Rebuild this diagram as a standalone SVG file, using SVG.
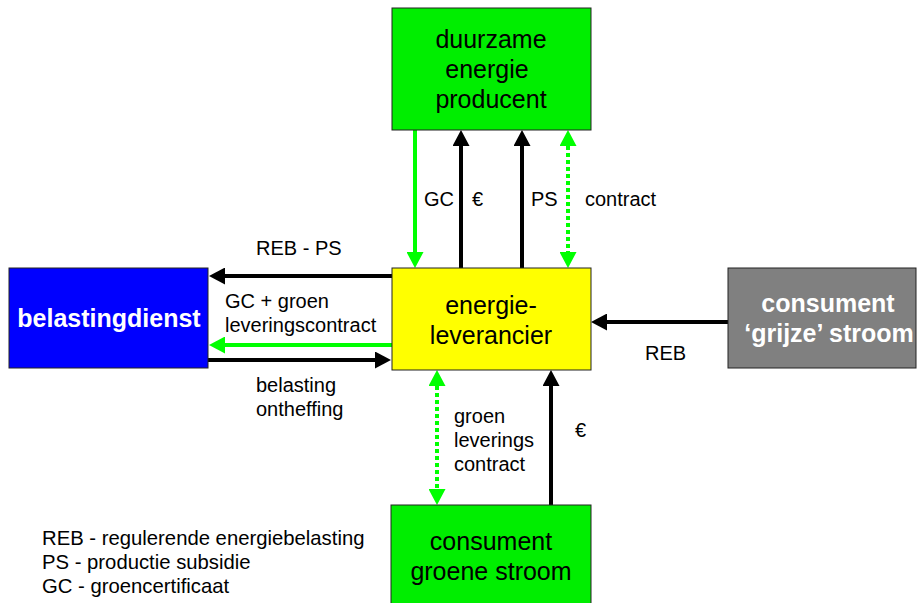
<svg xmlns="http://www.w3.org/2000/svg" width="917" height="603" viewBox="0 0 917 603">
<style>
  .box { stroke: #222; stroke-width: 1; }
  .bt { font-family: "Liberation Sans", Arial, sans-serif; font-size: 25px; text-anchor: middle; fill: #000; }
  .bw { font-family: "Liberation Sans", Arial, sans-serif; font-size: 25px; font-weight: bold; text-anchor: middle; fill: #fff; }
  .lbl { font-family: "Liberation Sans", Arial, sans-serif; font-size: 20px; fill: #000; }
  .leg { font-family: "Liberation Sans", Arial, sans-serif; font-size: 20.3px; fill: #000; }
  .blk { stroke: #000; stroke-width: 4; fill: none; }
  .grn { stroke: #00ff00; stroke-width: 4; fill: none; }
  .dot { stroke: #00ff00; stroke-width: 4; fill: none; stroke-dasharray: 4 3; }
</style>
<defs>
  <marker id="ab" markerUnits="userSpaceOnUse" markerWidth="16" markerHeight="17" refX="0" refY="8.5" orient="auto" viewBox="0 0 16 17">
    <path d="M0,0 L16,8.5 L0,17 Z" fill="#000"/>
  </marker>
  <marker id="ag" markerUnits="userSpaceOnUse" markerWidth="16" markerHeight="17" refX="0" refY="8.5" orient="auto-start-reverse" viewBox="0 0 16 17">
    <path d="M0,0 L16,8.5 L0,17 Z" fill="#00ff00"/>
  </marker>
</defs>

<g id="connectors">
  <line class="grn" x1="415" y1="130" x2="415" y2="252" marker-end="url(#ag)"/>
  <line class="blk" x1="461" y1="268" x2="461" y2="146" marker-end="url(#ab)"/>
  <line class="blk" x1="522" y1="268" x2="522" y2="146" marker-end="url(#ab)"/>
  <line class="dot" x1="568" y1="146" x2="568" y2="252" marker-start="url(#ag)" marker-end="url(#ag)"/>
  <line class="blk" x1="392" y1="276" x2="225" y2="276" marker-end="url(#ab)"/>
  <line class="grn" x1="392" y1="345" x2="225" y2="345" marker-end="url(#ag)"/>
  <line class="blk" x1="208" y1="360" x2="375" y2="360" marker-end="url(#ab)"/>
  <line class="blk" x1="728" y1="322" x2="607" y2="322" marker-end="url(#ab)"/>
  <line class="dot" x1="437" y1="386" x2="437" y2="489" marker-start="url(#ag)" marker-end="url(#ag)"/>
  <line class="blk" x1="551" y1="505" x2="551" y2="386" marker-end="url(#ab)"/>
</g>

<g id="labels">
  <text class="lbl" x="424" y="206">GC</text>
  <text class="lbl" x="472" y="206">€</text>
  <text class="lbl" x="531" y="206">PS</text>
  <text class="lbl" x="585" y="206">contract</text>
  <text class="lbl" x="256" y="255">REB - PS</text>
  <text class="lbl" x="225" y="308">GC + groen</text>
  <text class="lbl" x="225" y="332">leveringscontract</text>
  <text class="lbl" x="256" y="392">belasting</text>
  <text class="lbl" x="256" y="416">ontheffing</text>
  <text class="lbl" x="645" y="360">REB</text>
  <text class="lbl" x="454" y="423">groen</text>
  <text class="lbl" x="454" y="447">leverings</text>
  <text class="lbl" x="454" y="471">contract</text>
  <text class="lbl" x="575" y="437">€</text>
</g>

<g id="producent">
  <rect class="box" x="392" y="8" width="199" height="122" fill="#00ee00"/>
  <text class="bt" x="491" y="48">duurzame</text>
  <text class="bt" x="487" y="78">energie</text>
  <text class="bt" x="491" y="108">producent</text>
</g>

<g id="leverancier">
  <rect class="box" x="392" y="268" width="199" height="102" fill="#ffff00"/>
  <text class="bt" x="491" y="314">energie-</text>
  <text class="bt" x="491" y="344">leverancier</text>
</g>

<g id="belastingdienst">
  <rect class="box" x="9" y="268" width="199" height="100" fill="#0000ff"/>
  <text class="bw" x="109" y="327">belastingdienst</text>
</g>

<g id="grijs">
  <rect class="box" x="728" y="268" width="188" height="100" fill="#808080"/>
  <text class="bw" x="828" y="312">consument</text>
  <text class="bw" x="829" y="342">‘grijze’ stroom</text>
</g>

<g id="groen">
  <rect class="box" x="391" y="505" width="200" height="110" fill="#00ee00"/>
  <text class="bt" x="491" y="550">consument</text>
  <text class="bt" x="491" y="580">groene stroom</text>
</g>

<g id="legend">
  <text class="leg" x="42" y="545">REB - regulerende energiebelasting</text>
  <text class="leg" x="42" y="569">PS - productie subsidie</text>
  <text class="leg" x="42" y="593">GC - groencertificaat</text>
</g>
</svg>
